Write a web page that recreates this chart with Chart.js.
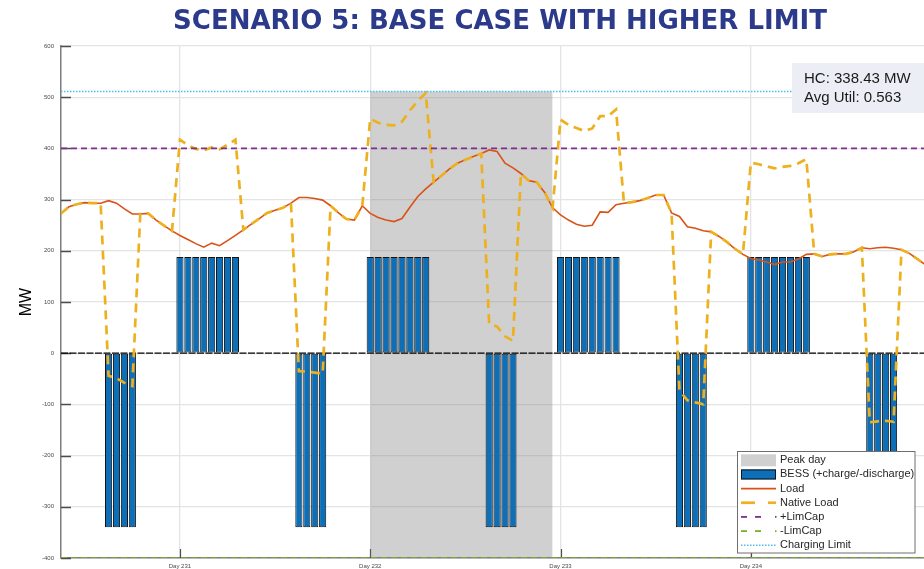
<!DOCTYPE html>
<html>
<head>
<meta charset="utf-8">
<script src="https://cdn.jsdelivr.net/npm/chart.js@4.4.1/dist/chart.umd.min.js"></script>
<style>
  html, body { margin: 0; padding: 0; background: #ffffff; }
  #wrap { position: relative; width: 924px; height: 569px; }
</style>
</head>
<body>
<div id="wrap"><canvas id="chart" width="924" height="569"></canvas></div>
<script>
// ---- hourly series, first sample = Day 230, hour 09 ----
const FIRST_DAY = 230;
const FIRST_HOUR = 9;
const X_MIN = 230.375;   // Day 230, 09:00
const X_MAX = 234.91;
const dayTicks = [231, 232, 233, 234];

const loadMW = [
  273, 286, 291, 294, 293, 293, 298, 293, 282, 272,
  272, 273, 260, 249, 239, 230, 222, 214, 207, 215,
  210, 220, 230, 241, 252, 263, 274, 279, 284, 293,
  304, 304, 302, 299, 288, 274, 262, 260, 288, 273,
  265, 260, 257, 263, 285, 306, 321, 334, 347, 360,
  371, 378, 384, 390, 397, 394, 371, 362, 351, 337,
  334, 314, 284, 270, 260, 252, 248, 250, 276, 275,
  290, 293, 295, 298, 303, 309, 309, 274, 267, 247,
  244, 239, 237, 228, 217, 204, 193, 185, 182, 178,
  173, 178, 178, 184, 193, 194, 189, 193, 194, 194,
  198, 206, 204, 206, 207, 205, 202, 195, 184, 173
];

const nativeLoadMW = [
  273, 286, 291, 294, 293, 293, -44, -49, -58, -64,
  272, 273, 260, 249, 239, 417, 406, 399, 396, 402,
  398, 407, 417, 241, 252, 263, 274, 279, 284, 293,
  -35, -36, -38, -40, 288, 274, 262, 260, 288, 458,
  450, 446, 445, 452, 474, 493, 508, 334, 347, 360,
  371, 378, 384, 390, 57, 52, 33, 24, 351, 337,
  334, 314, 284, 456, 446, 440, 434, 439, 463, 463,
  476, 293, 295, 298, 303, 309, 309, 274, -73, -92,
  -96, -100, 237, 228, 217, 204, 193, 372, 369, 365,
  361, 364, 366, 371, 379, 194, 189, 193, 194, 194,
  198, 206, -135, -133, -132, -134, 202, 195, 184, 173
];

const bessMW = [
  0, 0, 0, 0, 0, 0, -340, -340, -340, -340,
  0, 0, 0, 0, 0, 188, 188, 188, 188, 188,
  188, 188, 188, 0, 0, 0, 0, 0, 0, 0,
  -340, -340, -340, -340, 0, 0, 0, 0, 0, 188,
  188, 188, 188, 188, 188, 188, 188, 0, 0, 0,
  0, 0, 0, 0, -340, -340, -340, -340, 0, 0,
  0, 0, 0, 188, 188, 188, 188, 188, 188, 188,
  188, 0, 0, 0, 0, 0, 0, 0, -340, -340,
  -340, -340, 0, 0, 0, 0, 0, 188, 188, 188,
  188, 188, 188, 188, 188, 0, 0, 0, 0, 0,
  0, 0, -340, -340, -340, -340, 0, 0, 0, 0
];

const limCapMW = 400;
const chargingLimitMW = 511;
const peakDayRange = [232, 232 + 23 / 24];
const yRange = [-400, 600];
const yStep = 100;
const titleText = 'SCENARIO 5: BASE CASE WITH HIGHER LIMIT';
const infoLines = ['HC: 338.43 MW', 'Avg Util: 0.563'];

// ---- helpers ----
const dayOf = i => FIRST_DAY + (FIRST_HOUR + i) / 24;
const toXY = arr => arr.map((v, i) => ({ x: dayOf(i), y: v }));
const flat = v => [{ x: X_MIN, y: v }, { x: X_MAX, y: v }];

const COLORS = {
  bess: '#0C6FB7',
  load: '#D95319',
  native: '#EDB120',
  plus: '#7E2F8E',
  minus: '#77AC30',
  charge: '#4DBEEE',
  peak: 'rgba(125,125,125,0.36)'
};

const datasets = [
  {
    type: 'line', label: 'Peak day', legend: 'patch',
    data: [{ x: peakDayRange[0], y: chargingLimitMW }, { x: peakDayRange[1], y: chargingLimitMW }],
    fill: { value: yRange[0] }, backgroundColor: COLORS.peak,
    borderWidth: 0, pointRadius: 0, order: 20
  },
  {
    type: 'bar', label: 'BESS (+charge/-discharge)', legend: 'bar',
    data: toXY(bessMW).filter(p => p.y !== 0),
    backgroundColor: COLORS.bess, borderColor: '#141414', borderWidth: 1,
    borderSkipped: false, barPercentage: 0.9, categoryPercentage: 1, order: 15
  },
  {
    type: 'line', label: 'baseline', legend: null,
    data: flat(0), borderColor: '#000000', borderWidth: 1.2, borderDash: [7, 1.5],
    pointRadius: 0, order: 12
  },
  {
    type: 'line', label: 'Load', legend: 'line',
    data: toXY(loadMW), borderColor: COLORS.load, borderWidth: 1.6,
    pointRadius: 0, tension: 0, order: 6
  },
  {
    type: 'line', label: 'Native Load', legend: 'native',
    data: toXY(nativeLoadMW), borderColor: COLORS.native, borderWidth: 2.7,
    borderDash: [9, 6], pointRadius: 0, tension: 0, order: 5
  },
  {
    type: 'line', label: '+LimCap', legend: 'lim',
    data: flat(limCapMW), borderColor: COLORS.plus, borderWidth: 1.8,
    borderDash: [6, 4], pointRadius: 0, order: 3
  },
  {
    type: 'line', label: '-LimCap', legend: 'lim',
    data: flat(-limCapMW), borderColor: COLORS.minus, borderWidth: 1.8,
    borderDash: [6, 4], pointRadius: 0, order: 2
  },
  {
    type: 'line', label: 'Charging Limit', legend: 'dots',
    data: flat(chargingLimitMW), borderColor: COLORS.charge, borderWidth: 1.5,
    borderDash: [1.5, 1.5], pointRadius: 0, order: 1
  }
];

// inward tick marks on both axes
const innerTicks = {
  id: 'innerTicks',
  beforeDatasetsDraw(chart) {
    const { ctx, chartArea: a, scales: { x, y } } = chart;
    ctx.save();
    ctx.strokeStyle = '#4d4d4d';
    ctx.lineWidth = 1.5;
    for (let v = yRange[0]; v <= yRange[1]; v += yStep) {
      const py = Math.round(y.getPixelForValue(v)) + 0.5;
      ctx.beginPath(); ctx.moveTo(a.left, py); ctx.lineTo(a.left + 10, py); ctx.stroke();
    }
    ctx.lineWidth = 1.2;
    dayTicks.forEach(d => {
      const px = Math.round(x.getPixelForValue(d)) + 0.5;
      ctx.beginPath(); ctx.moveTo(px, a.bottom); ctx.lineTo(px, a.bottom - 9); ctx.stroke();
    });
    ctx.restore();
  }
};

// title, info box and boxed legend
const overlay = {
  id: 'overlay',
  afterDraw(chart) {
    const ctx = chart.ctx;
    ctx.save();
    // title
    ctx.font = 'bold 26px "DejaVu Sans", Verdana, sans-serif';
    ctx.fillStyle = '#2B3A8A';
    ctx.textAlign = 'center';
    ctx.textBaseline = 'middle';
    ctx.fillText(titleText, 500, 22);

    // info box
    ctx.fillStyle = '#ECEEF6';
    ctx.fillRect(792, 63, 140, 50);
    ctx.fillStyle = '#1a1a1a';
    ctx.font = '15px "Liberation Sans", Arial, sans-serif';
    ctx.textAlign = 'left';
    ctx.fillText(infoLines[0], 804, 78.5);
    ctx.fillText(infoLines[1], 804, 98);

    // legend
    const bx = 737.5, by = 451.5, bw = 177.5, bh = 101.5;
    ctx.fillStyle = '#ffffff';
    ctx.fillRect(bx, by, bw, bh);
    ctx.strokeStyle = '#6e6e6e';
    ctx.lineWidth = 1;
    ctx.strokeRect(bx, by, bw, bh);
    const items = chart.data.datasets.filter(d => d.legend);
    const x0 = 741, x1 = 776;
    items.forEach((d, i) => {
      const cy = 460.3 + i * 14.15;
      ctx.setLineDash([]);
      if (d.legend === 'patch') {
        ctx.fillStyle = d.backgroundColor;
        ctx.fillRect(x0, cy - 6, x1 - x0, 12);
      } else if (d.legend === 'bar') {
        ctx.fillStyle = d.backgroundColor;
        ctx.fillRect(x0, cy - 5, x1 - x0, 10);
        ctx.strokeStyle = d.borderColor;
        ctx.lineWidth = 1;
        ctx.strokeRect(x0 + 0.5, cy - 4.5, x1 - x0 - 1, 9);
      } else {
        ctx.strokeStyle = d.borderColor;
        ctx.lineWidth = d.borderWidth;
        let segs;
        if (d.legend === 'line') segs = [[x0, x1]];
        else if (d.legend === 'native') segs = [[x0, x0 + 14], [x0 + 27, x1]];
        else if (d.legend === 'lim') segs = [[x0, x0 + 6], [x0 + 14, x0 + 20], [x0 + 34, x0 + 35.5]];
        else { ctx.setLineDash([1.5, 1.5]); segs = [[x0, x1]]; }
        segs.forEach(s => {
          ctx.beginPath(); ctx.moveTo(s[0], cy); ctx.lineTo(s[1], cy); ctx.stroke();
        });
      }
      ctx.setLineDash([]);
      ctx.fillStyle = '#262626';
      ctx.font = '11px "Liberation Sans", Arial, sans-serif';
      ctx.textAlign = 'left';
      ctx.textBaseline = 'middle';
      ctx.fillText(d.label, 780, cy);
    });
    ctx.restore();
  }
};

new Chart(document.getElementById('chart'), {
  type: 'line',
  data: { datasets },
  options: {
    responsive: false,
    animation: false,
    devicePixelRatio: 1,
    events: [],
    layout: { padding: { top: 46, left: 0, right: 0, bottom: 0 } },
    plugins: { legend: { display: false }, tooltip: { enabled: false }, title: { display: false } },
    scales: {
      x: {
        type: 'linear', min: X_MIN, max: X_MAX, offset: false,
        afterBuildTicks: s => { s.ticks = dayTicks.map(v => ({ value: v })); },
        afterFit: s => { s.height = 11; },
        grid: { color: '#e4e4e4', lineWidth: 1.3, drawTicks: false, offset: false },
        border: { display: true, color: '#7d7d7d', width: 1.5 },
        ticks: {
          autoSkip: false, maxRotation: 0, padding: 5,
          font: { size: 6, family: '"Liberation Sans", Arial, sans-serif' }, color: '#4a4a4a',
          callback: v => 'Day ' + v
        }
      },
      y: {
        type: 'linear', min: yRange[0], max: yRange[1],
        afterFit: s => { s.width = 61; },
        grid: { color: '#e4e4e4', lineWidth: 1.3, drawTicks: false },
        border: { display: true, color: '#7d7d7d', width: 1.5 },
        ticks: {
          stepSize: yStep, padding: 7,
          font: { size: 6, family: '"Liberation Sans", Arial, sans-serif' }, color: '#4a4a4a'
        },
        title: {
          display: true, text: 'MW', color: '#000000',
          font: { size: 16, family: '"Liberation Sans", Arial, sans-serif' },
          padding: { top: 17, bottom: 0 }
        }
      }
    }
  },
  plugins: [innerTicks, overlay]
});
</script>
</body>
</html>
